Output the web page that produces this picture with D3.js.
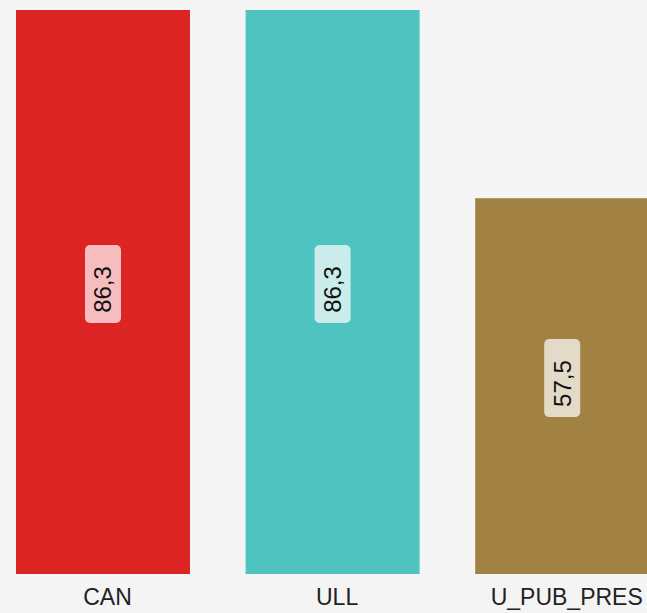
<!DOCTYPE html>
<html><head><meta charset="utf-8">
<script src="https://cdn.jsdelivr.net/npm/d3@7"></script>
<style>html,body{margin:0;padding:0;background:#f4f4f4;}svg{display:block;}</style>
</head><body><div id="chart"></div>
<script>
const categories = ["CAN", "ULL", "U_PUB_PRES"];
const values = [86.3, 86.3, 57.5];
const valueLabels = ["86,3", "86,3", "57,5"];
const colors = ["#dc2424", "#4fc3bf", "#a18243"];

const W = 647, H = 613;
const svg = d3.select("#chart").append("svg").attr("width", W).attr("height", H);
svg.append("rect").attr("width", W).attr("height", H).attr("fill", "#f4f4f4");

const x = d3.scaleBand().domain(categories).range([16, 649.2]).paddingInner(0.2422).paddingOuter(0);
const y = d3.scaleLinear().domain([0, 86.3]).range([574, 10]);

const data = categories.map((c, i) => ({c, v: values[i], l: valueLabels[i], col: colors[i]}));

svg.selectAll("rect.bar").data(data).join("rect").attr("class", "bar")
  .attr("x", d => x(d.c)).attr("y", d => y(d.v))
  .attr("width", x.bandwidth()).attr("height", d => y(0) - y(d.v))
  .attr("fill", d => d.col);

const g = svg.selectAll("g.lab").data(data).join("g").attr("class", "lab")
  .attr("transform", d => `translate(${x(d.c) + x.bandwidth() / 2},${(y(d.v) + y(0)) / 2})`);
g.append("rect").attr("x", -18).attr("y", -47).attr("width", 36).attr("height", 78)
  .attr("rx", 5).attr("fill", "#ffffff").attr("fill-opacity", 0.7);
g.append("text").attr("transform", "rotate(-90)").attr("x", 2.5).attr("y", 0)
  .attr("text-anchor", "middle").attr("dominant-baseline", "central")
  .attr("font-family", "Liberation Sans, Arial, sans-serif").attr("font-size", 24)
  .attr("fill", "#111").text(d => d.l);

const ax = svg.append("g").attr("transform", `translate(0,${y(0)})`)
  .call(d3.axisBottom(x).tickSize(0).tickPadding(0));
ax.select(".domain").remove();
ax.selectAll("text").attr("font-family", "Liberation Sans, Arial, sans-serif").attr("font-size", 23)
  .attr("fill", "#222").attr("dy", null).attr("y", 31).attr("x", 4.5);
</script></body></html>
